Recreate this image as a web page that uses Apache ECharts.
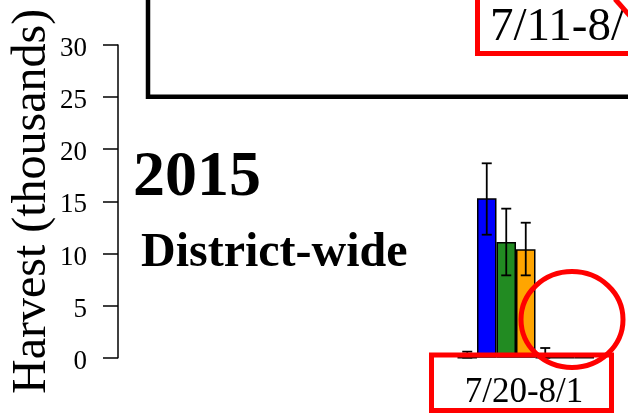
<!DOCTYPE html>
<html style="height: 100%">
<head>
    <meta charset="utf-8">
    <title>Harvest 2015</title>
    <script src="https://cdn.jsdelivr.net/npm/echarts@6/dist/echarts.min.js"></script>
</head>
<body style="height: 100%; margin: 0">
    <div id="container" style="width: 628px; height: 415px"></div>
    <script type="text/javascript">
        // harvest per group, in thousands
        var groups   = ['G1', 'G2', 'G3', 'G4', 'G5', 'G6', 'G7'];
        var harvest  = [0, 15.3, 11.1, 10.4, 0, 0, 0];
        var errHigh  = [0.58, 18.65, 14.3, 12.95, 0.93, 0, 0];
        var errLow   = [0, 11.8, 7.9, 7.9, 0, 0, 0];
        var colors   = ['#808080', '#0000ff', '#228b22', '#ffa500', '#808080', '#808080', '#808080'];
        var yTicks   = [0, 30, 5];
        var period   = '7/20-8/1';
        var prevPeriod = '7/11-8/';
        var serif    = 'Liberation Serif, Times New Roman, serif';

        var dom     = document.getElementById('container');
        var myChart = echarts.init(dom);

        function renderErr(params, api) {
            var hi = api.value(1), lo = api.value(2);
            if (hi === lo) return;
            var top = api.coord([api.value(0), hi]);
            var bot = api.coord([api.value(0), lo]);
            var cap = 5;
            var st = {stroke: '#000', lineWidth: 1.8};
            return {
                type: 'group',
                children: [
                    {type: 'line', shape: {x1: top[0], y1: top[1], x2: bot[0], y2: bot[1]}, style: st},
                    {type: 'line', shape: {x1: top[0] - cap, y1: top[1], x2: top[0] + cap, y2: top[1]}, style: st},
                    {type: 'line', shape: {x1: bot[0] - cap, y1: bot[1], x2: bot[0] + cap, y2: bot[1]}, style: st}
                ]
            };
        }

        var option = {
            animation: false,
            grid: {left: 457.5, right: 34, top: 45, bottom: 57.3, outerBoundsMode: 'none', containLabel: false},
            xAxis: {
                type: 'category',
                data: groups,
                show: false
            },
            yAxis: {
                type: 'value',
                min: yTicks[0],
                max: yTicks[1],
                interval: yTicks[2],
                offset: 339.5,
                name: 'Harvest (thousands)',
                nameLocation: 'middle',
                nameGap: 62,
                nameTextStyle: {fontFamily: serif, fontSize: 48, color: '#000'},
                axisLine: {show: true, lineStyle: {color: '#000', width: 1.5}},
                axisTick: {show: true, length: 15, lineStyle: {color: '#000', width: 1.5}},
                axisLabel: {fontFamily: serif, fontSize: 27, color: '#000', margin: 31,
                    verticalAlign: 'top', lineHeight: 8},
                splitLine: {show: false}
            },
            series: [{
                type: 'bar',
                barCategoryGap: '0%',
                data: harvest.map(function (v, i) {
                    return {value: v, itemStyle: {color: colors[i]}};
                }),
                itemStyle: {borderColor: '#000', borderWidth: 1.5}
            }, {
                type: 'custom',
                renderItem: renderErr,
                encode: {x: 0, y: [1, 2]},
                data: groups.map(function (g, i) { return [i, errHigh[i], errLow[i]]; }),
                z: 3
            }],
            graphic: [
                {type: 'rect', z: 10, shape: {x: 148, y: -10, width: 600, height: 106.7},
                    style: {fill: 'none', stroke: '#000', lineWidth: 4.5}},
                {type: 'rect', z: 11, shape: {x: 477.5, y: -10, width: 300, height: 63.5},
                    style: {fill: 'none', stroke: '#ff0000', lineWidth: 5}},
                {type: 'text', z: 11, style: {x: 490, y: 4, text: prevPeriod, font: '47px ' + serif, fill: '#000'}},
                {type: 'line', z: 11, shape: {x1: 615, y1: -1, x2: 630, y2: 16},
                    style: {stroke: '#ff0000', lineWidth: 5}},
                {type: 'text', z: 11, style: {x: 133, y: 146, text: '2015', font: 'bold 64px ' + serif, fill: '#000'}},
                {type: 'text', z: 11, style: {x: 141, y: 230, text: 'District-wide', font: 'bold 48px ' + serif, fill: '#000'}},
                {type: 'rect', z: 11, shape: {x: 431.5, y: 355, width: 180, height: 55.5},
                    style: {fill: 'none', stroke: '#ff0000', lineWidth: 5}},
                {type: 'text', z: 11, style: {x: 524, y: 375, text: period, font: '35px ' + serif, fill: '#000', align: 'center'}},
                {type: 'ellipse', z: 12, shape: {cx: 572, cy: 319.5, rx: 51, ry: 48},
                    style: {fill: 'none', stroke: '#ff0000', lineWidth: 5}}
            ]
        };

        myChart.setOption(option);
    </script>
</body>
</html>
